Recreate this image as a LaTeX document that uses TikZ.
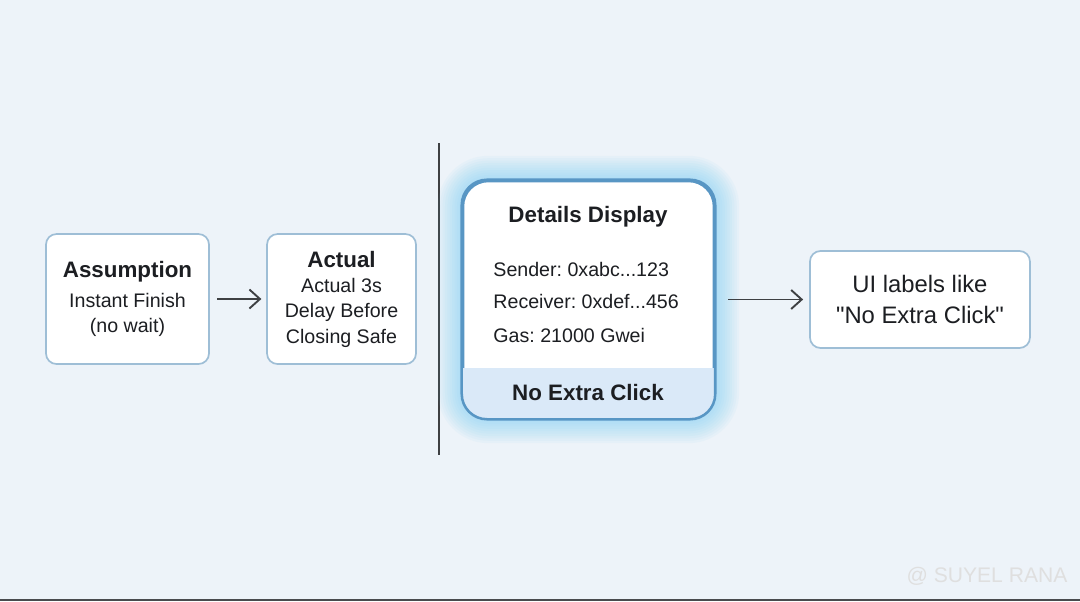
\documentclass[tikz,border=0pt]{standalone}
\usepackage{fontspec}
\setmainfont{Liberation Sans}
\newfontfamily\plainsans{Liberation Sans}
\frenchspacing
\usepackage{tikz}
\usetikzlibrary{positioning, arrows.meta, calc}
\definecolor{bgblue}{RGB}{237,243,249}
\definecolor{boxline}{RGB}{158,190,214}
\definecolor{inkdark}{RGB}{28,30,34}
\definecolor{glowblue}{RGB}{110,205,245}
\definecolor{cardline}{RGB}{88,150,196}
\definecolor{bandblue}{RGB}{218,233,248}
\newcommand{\headfont}{\fontsize{10.6pt}{12pt}\selectfont\bfseries}
\newcommand{\bodyfont}{\fontsize{9.3pt}{10.9pt}\selectfont}

\begin{document}
\begin{tikzpicture}[
    box/.style={rectangle, draw=boxline, line width=0.8pt, rounded corners=5pt, fill=white,
                align=center, text=inkdark, inner sep=0pt},
    card/.style={rectangle, draw=cardline, line width=1.2pt, rounded corners=12pt, fill=white,
                 minimum width=4.183cm, minimum height=3.95cm, inner sep=0pt},
    flow/.style={-{Straight Barb[length=5pt, width=9pt]}, line width=0.9pt, draw=inkdark!85},
    field/.style={anchor=west, text=inkdark, font=\bodyfont, inner sep=0pt}
]
% Background
\fill[bgblue] (0,0) rectangle (18,10.0167);
\useasboundingbox (0,0) rectangle (18,10.0167);
\draw[inkdark!80, line width=1pt] (0,0.02) -- (18,0.02);

% Left side: assumption vs actual
\node[box, minimum width=2.717cm, minimum height=2.167cm] (assume) at (2.125,5.033)
    {{\headfont Assumption}\\[2pt]\bodyfont Instant Finish\\\bodyfont (no wait)};
\node[box, minimum width=2.483cm, minimum height=2.167cm] (actual) at (5.692,5.033)
    {{\headfont Actual}\\[0pt]\bodyfont Actual 3s\\\bodyfont Delay Before\\\bodyfont Closing Safe};
\draw[flow] ($(assume.east)+(0.12,0)$) -- ($(actual.west)+(-0.08,0)$);

% Divider
\coordinate (divtop) at (7.317,7.633);
\coordinate (divbot) at (7.317,2.433);
\draw[inkdark!85, line width=0.9pt] (divtop) -- (divbot);

% Glow around the details card
\foreach \g in {0.42,0.38,...,0.02}
  \fill[glowblue, opacity=0.06, rounded corners=12pt+\g cm]
    ($(9.808,5.025)+(-2.0915-\g,-1.975-\g)$) rectangle ($(9.808,5.025)+(2.0915+\g,1.975+\g)$);

% Details card
\node[card] (details) at (9.808,5.025) {};
\begin{scope}
  \clip[rounded corners=12pt] (details.south west) rectangle (details.north east);
  \fill[bandblue] (details.south west) rectangle ($(details.east)+(0,-1.142)$);
\end{scope}
\draw[cardline, line width=1.2pt, rounded corners=12pt] (details.south west) rectangle (details.north east);
\node[text=inkdark, font=\headfont, inner sep=0pt] (dtitle) at (9.8,6.4) {Details Display};
\node[field] (sender) at (8.217,5.533) {Sender: 0xabc...123};
\node[field] (receiver) at (8.217,5.0) {Receiver: 0xdef...456};
\node[field] (gas) at (8.217,4.433) {Gas: 21000 Gwei};
\node[text=inkdark, font=\headfont, inner sep=0pt] (noclick) at (9.8,3.467) {No Extra Click};

% Result
\node[box, minimum width=3.667cm, minimum height=1.617cm,
      font=\plainsans\fontsize{11.3pt}{14pt}\selectfont] (labels) at (15.333,5.025)
    {UI labels like\\[1pt]"No Extra Click"};
\draw[flow] ($(details.east)+(0.22,0)$) -- ($(labels.west)+(-0.1,0)$);

% Watermark
\node[text=white!75!gray, font=\fontsize{10pt}{12pt}\selectfont, inner sep=0pt] (mark) at (16.45,0.417) {@ SUYEL RANA};
\end{tikzpicture}
\end{document}
